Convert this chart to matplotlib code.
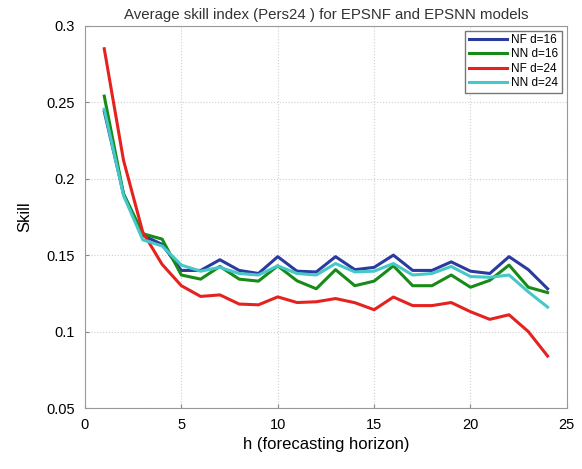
import matplotlib
matplotlib.use("Agg")
import matplotlib.pyplot as plt

plt.rcParams['font.family'] = ['Liberation Sans', 'DejaVu Sans']

# forecasting horizon
h = list(range(1, 25))

nf16 = [0.244, 0.190, 0.163, 0.157, 0.140, 0.140, 0.147, 0.140, 0.138, 0.149,
        0.1395, 0.139, 0.149, 0.1405, 0.142, 0.150, 0.140, 0.140, 0.1456, 0.1395,
        0.138, 0.149, 0.1405, 0.128]
nn16 = [0.254, 0.190, 0.164, 0.1605, 0.137, 0.1343, 0.1426, 0.1343, 0.133, 0.143,
        0.1332, 0.128, 0.1405, 0.130, 0.133, 0.143, 0.130, 0.130, 0.137, 0.129,
        0.1335, 0.1435, 0.129, 0.1255]
nf24 = [0.285, 0.212, 0.165, 0.144, 0.130, 0.123, 0.124, 0.118, 0.1175, 0.1227,
        0.119, 0.1195, 0.1216, 0.1189, 0.1143, 0.1226, 0.117, 0.117, 0.119, 0.113,
        0.108, 0.111, 0.100, 0.084]
nn24 = [0.2455, 0.189, 0.160, 0.156, 0.1435, 0.1395, 0.142, 0.138, 0.137, 0.143,
        0.138, 0.137, 0.1445, 0.139, 0.1395, 0.1445, 0.137, 0.138, 0.1426, 0.136,
        0.1355, 0.137, 0.126, 0.116]

series = [
    ("NF d=16", nf16, "#2b3a9e"),
    ("NN d=16", nn16, "#178a17"),
    ("NF d=24", nf24, "#e42320"),
    ("NN d=24", nn24, "#45c8c8"),
]

fig = plt.figure(figsize=(5.82, 4.69), dpi=100)
ax = fig.add_axes([0.146, 0.130, 0.828, 0.815])

for label, vals, col in series:
    ax.plot(h, vals, color=col, linewidth=2.2, label=label)

ax.set_xlim(0, 25)
ax.set_ylim(0.05, 0.3)
ax.set_xticks([0, 5, 10, 15, 20, 25])
ax.set_yticks([0.05, 0.1, 0.15, 0.2, 0.25, 0.3])
ax.set_yticklabels(["0.05", "0.1", "0.15", "0.2", "0.25", "0.3"])
ax.grid(True, color="#cfcfcf", linestyle=":", linewidth=0.8)
ax.tick_params(labelsize=10.5, direction="in", length=3, color="#888888", pad=7)
for s in ax.spines.values():
    s.set_color("#999999")

ax.set_title("Average skill index (Pers24 ) for EPSNF and EPSNN models",
             fontsize=10.8, color="#333333", pad=5)
ax.set_xlabel("h (forecasting horizon)", fontsize=12, labelpad=4)
ax.set_ylabel("Skill", fontsize=12, labelpad=10)

leg = ax.legend(loc="upper right", fontsize=8.5, fancybox=False, framealpha=1,
                handlelength=3.2, handletextpad=0.4, borderpad=0.3,
                labelspacing=0.2, borderaxespad=0.4)
leg.get_frame().set_edgecolor("#777777")
leg.get_frame().set_linewidth(1.0)

fig.savefig("out.png", dpi=100)
